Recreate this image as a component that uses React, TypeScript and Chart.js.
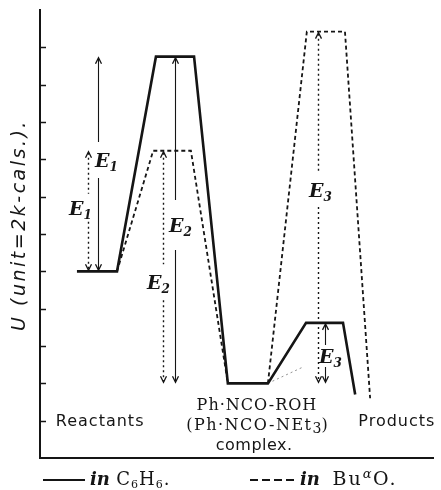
import React, { useEffect, useRef } from "react";
import { Chart, registerables } from "chart.js";

Chart.register(...registerables);

// Reaction coordinate (arbitrary) vs. energy U (unit = 2 k-cals.)
const benzeneX = [0.94, 1.96, 2.95, 3.92, 4.78, 5.8, 6.77, 7.71, 8.02];
const benzeneU = [5, 5, 10.75, 10.75, 2, 2, 3.62, 3.62, 1.7];
const etherX = [1.96, 2.88, 3.84, 4.78, 5.29, 5.8, 6.79, 7.76, 8.4];
const etherU: (number | null)[] = [5, 8.23, 8.23, 2, null, 2, 11.42, 11.42, 1.6];
const faintX = [5.8, 6.72];
const faintU = [2, 2.45];

const yTicks = [1, 2, 3, 4, 5, 6, 7, 8, 9, 10, 11];

// Activation-energy arrows
const arrowSub = ["1", "1", "2", "2", "3", "3"];
const arrowX = [1.48, 1.22, 3.44, 3.13, 7.07, 7.25];
const arrowFromU = [5, 5, 10.75, 8.23, 11.42, 3.62];
const arrowToU = [10.75, 8.23, 2, 2, 2, 2];
const arrowDashed = [false, true, false, true, true, false];

// Arrow label layout
const arrowLabelU = [7.98, 6.7, 6.24, 4.71, 7.18, 2.73];
const arrowLabelDx = [8, -8, 5, -5, 2, 5];
const arrowGap = [18, 14, 25, 18, 17, 11];

const axisTitle = "U (unit=2k-cals.).";

const SANS = "'DejaVu Sans'";
const SERIF = "'DejaVu Serif'";

type Run = { t: string; font: string; dy?: number; ls?: string };

function drawRuns(ctx: CanvasRenderingContext2D, runs: Run[], x0: number, y: number, align: "center" | "left") {
  const widths = runs.map((r) => {
    ctx.font = r.font;
    (ctx as any).letterSpacing = r.ls || "0px";
    return ctx.measureText(r.t).width;
  });
  const total = widths.reduce((a, b) => a + b, 0);
  let x = align === "center" ? x0 - total / 2 : x0;
  ctx.textAlign = "left";
  ctx.textBaseline = "alphabetic";
  runs.forEach((r, i) => {
    ctx.font = r.font;
    (ctx as any).letterSpacing = r.ls || "0px";
    ctx.fillText(r.t, x, y + (r.dy || 0));
    x += widths[i];
  });
  (ctx as any).letterSpacing = "0px";
}

const decorations = {
  id: "decorations",
  afterDatasetsDraw(chart: any) {
    const { ctx, chartArea } = chart;
    const xs = chart.scales.x;
    const ys = chart.scales.y;
    const ink = "#151515";
    ctx.save();
    ctx.strokeStyle = ink;
    ctx.fillStyle = ink;

    // inward y ticks
    ctx.lineWidth = 1.5;
    ctx.setLineDash([]);
    yTicks.forEach((v) => {
      const y = Math.round(ys.getPixelForValue(v)) + 0.5;
      ctx.beginPath();
      ctx.moveTo(chartArea.left, y);
      ctx.lineTo(chartArea.left + 6, y);
      ctx.stroke();
    });

    // arrows
    arrowX.forEach((ax, i) => {
      const x = Math.round(xs.getPixelForValue(ax)) + 0.5;
      const y1 = ys.getPixelForValue(arrowFromU[i]);
      const y2 = ys.getPixelForValue(arrowToU[i]);
      const top = Math.min(y1, y2);
      const bot = Math.max(y1, y2);
      const ly = ys.getPixelForValue(arrowLabelU[i]);
      const g = arrowGap[i];
      ctx.lineWidth = arrowDashed[i] ? 1.4 : 1.1;
      ctx.setLineDash(arrowDashed[i] ? [2, 3] : []);
      ctx.beginPath();
      ctx.moveTo(x, top + 2);
      ctx.lineTo(x, ly - g);
      ctx.moveTo(x, ly + g);
      ctx.lineTo(x, bot - 2);
      ctx.stroke();
      ctx.setLineDash([]);
      ctx.lineWidth = 1.3;
      ctx.beginPath();
      ctx.moveTo(x - 3, top + 7);
      ctx.lineTo(x, top + 1);
      ctx.lineTo(x + 3, top + 7);
      ctx.moveTo(x - 3, bot - 7);
      ctx.lineTo(x, bot - 1);
      ctx.lineTo(x + 3, bot - 7);
      ctx.stroke();
      // label
      drawRuns(
        ctx,
        [
          { t: "E", font: `bold italic 19px ${SERIF}` },
          { t: arrowSub[i], font: `bold italic 12px ${SERIF}`, dy: 4 },
        ],
        x + arrowLabelDx[i],
        ly + 7,
        "center"
      );
    });

    // category labels
    const px = (v: number) => xs.getPixelForValue(v);
    const py = (v: number) => ys.getPixelForValue(v);
    drawRuns(ctx, [{ t: "Reactants", font: `16px ${SANS}`, ls: "1px" }], px(1.53), py(0.86), "center");
    drawRuns(ctx, [{ t: "Ph·NCO-ROH", font: `16px ${SERIF}`, ls: "1px" }], px(5.52), py(1.29), "center");
    drawRuns(
      ctx,
      [
        { t: "(Ph·NCO-NEt", font: `16px ${SERIF}`, ls: "1.5px" },
        { t: "3", font: `14px ${SERIF}`, dy: 3 },
        { t: ")", font: `16px ${SERIF}` },
      ],
      px(5.52),
      py(0.75),
      "center"
    );
    drawRuns(ctx, [{ t: "complex.", font: `16px ${SANS}`, ls: "0.5px" }], px(5.45), py(0.21), "center");
    drawRuns(ctx, [{ t: "Products", font: `16px ${SANS}`, ls: "1px" }], px(9.08), py(0.86), "center");

    // y-axis title
    ctx.save();
    ctx.translate(18, (chartArea.top + chartArea.bottom) / 2 - 9);
    ctx.rotate(-Math.PI / 2);
    drawRuns(ctx, [{ t: axisTitle, font: `oblique 19px ${SANS}`, ls: "2.5px" }], 0, 7, "center");
    ctx.restore();

    // legend
    const ly = chartArea.bottom + 27;
    ctx.lineWidth = 2.2;
    ctx.setLineDash([]);
    ctx.beginPath();
    ctx.moveTo(43, ly - 5);
    ctx.lineTo(85, ly - 5);
    ctx.stroke();
    drawRuns(
      ctx,
      [
        { t: "in ", font: `bold italic 18px ${SERIF}` },
        { t: "C", font: `18px ${SERIF}`, ls: "1px" },
        { t: "6", font: `11px ${SERIF}`, dy: 3, ls: "1px" },
        { t: "H", font: `18px ${SERIF}`, ls: "1px" },
        { t: "6", font: `11px ${SERIF}`, dy: 3, ls: "1px" },
        { t: ".", font: `18px ${SERIF}` },
      ],
      90,
      ly,
      "left"
    );
    ctx.lineWidth = 2;
    ctx.setLineDash([8, 4]);
    ctx.beginPath();
    ctx.moveTo(250, ly - 5);
    ctx.lineTo(294, ly - 5);
    ctx.stroke();
    ctx.setLineDash([]);
    drawRuns(
      ctx,
      [
        { t: "in  ", font: `bold italic 18px ${SERIF}` },
        { t: "Bu", font: `19px ${SERIF}`, ls: "2px" },
        { t: "α", font: `italic 13px ${SERIF}`, dy: -7, ls: "1.5px" },
        { t: "O.", font: `19px ${SERIF}`, ls: "2px" },
      ],
      300,
      ly,
      "left"
    );
    ctx.restore();
  },
};

export default function App() {
  const ref = useRef<HTMLCanvasElement>(null);
  useEffect(() => {
    const canvas = ref.current!;
    const chart = new Chart(canvas, {
      type: "scatter",
      data: {
        datasets: [
          {
            label: "in C6H6",
            data: benzeneX.map((x, i) => ({ x, y: benzeneU[i] })),
            showLine: true,
            borderColor: "#151515",
            borderWidth: 2.6,
            pointRadius: 0,
            borderJoinStyle: "miter",
          },
          {
            label: "in BuaO",
            data: etherX.map((x, i) => ({ x, y: etherU[i] as any })),
            showLine: true,
            spanGaps: false,
            borderColor: "#151515",
            borderWidth: 1.8,
            borderDash: [4, 3],
            pointRadius: 0,
          },
          {
            label: "faint",
            data: faintX.map((x, i) => ({ x, y: faintU[i] })),
            showLine: true,
            borderColor: "#777",
            borderWidth: 0.8,
            borderDash: [2, 3],
            pointRadius: 0,
          },
        ],
      },
      options: {
        animation: false,
        responsive: false,
        maintainAspectRatio: false,
        layout: { padding: { left: 0, right: 8, top: 10, bottom: 0 } },
        plugins: { legend: { display: false }, tooltip: { enabled: false } },
        scales: {
          x: {
            type: "linear",
            min: 0,
            max: 10,
            afterFit: (s: any) => {
              s.height = 32;
            },
            ticks: { display: false },
            grid: { display: false },
            border: { display: true, color: "#151515", width: 2 },
          },
          y: {
            type: "linear",
            min: 0,
            max: 12,
            afterFit: (s: any) => {
              s.width = 40;
            },
            ticks: { display: false, stepSize: 1 },
            grid: { display: false },
            border: { display: true, color: "#151515", width: 2 },
          },
        },
      },
      plugins: [decorations],
    });
    return () => chart.destroy();
  }, []);
  return (
    <div style={{ position: "absolute", left: 0, top: 0, width: 441, height: 490, background: "#fff" }}>
      <canvas ref={ref} width={441} height={490} style={{ width: 441, height: 490, display: "block" }} />
    </div>
  );
}
